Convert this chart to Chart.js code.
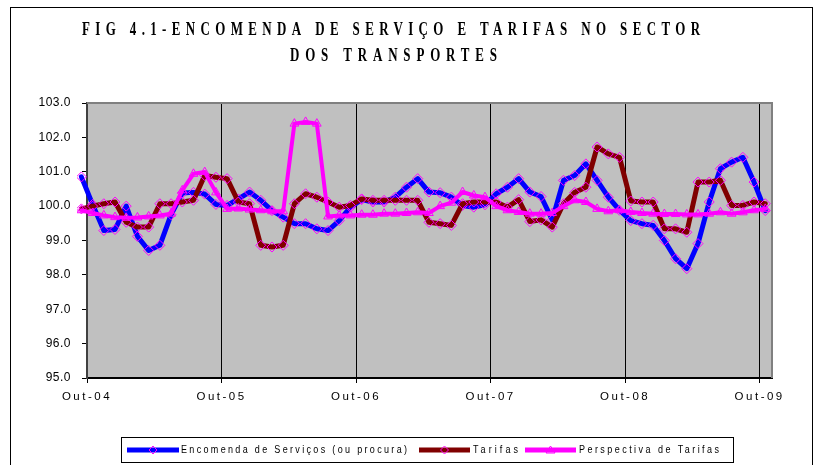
<!DOCTYPE html>
<html>
<head>
<meta charset="utf-8">
<script src="https://cdn.jsdelivr.net/npm/chart.js@4.4.0/dist/chart.umd.min.js"></script>
<style>
  html, body { margin: 0; padding: 0; background: #fff; }
  canvas { display: block; }
</style>
</head>
<body>
<canvas id="myChart" width="822" height="465"></canvas>
<script>
// meses (Set-04 .. Out-09)
const months = [
  'Set-04','Out-04','Nov-04','Dez-04',
  'Jan-05','Fev-05','Mar-05','Abr-05','Mai-05','Jun-05','Jul-05','Ago-05','Set-05','Out-05','Nov-05','Dez-05',
  'Jan-06','Fev-06','Mar-06','Abr-06','Mai-06','Jun-06','Jul-06','Ago-06','Set-06','Out-06','Nov-06','Dez-06',
  'Jan-07','Fev-07','Mar-07','Abr-07','Mai-07','Jun-07','Jul-07','Ago-07','Set-07','Out-07','Nov-07','Dez-07',
  'Jan-08','Fev-08','Mar-08','Abr-08','Mai-08','Jun-08','Jul-08','Ago-08','Set-08','Out-08','Nov-08','Dez-08',
  'Jan-09','Fev-09','Mar-09','Abr-09','Mai-09','Jun-09','Jul-09','Ago-09','Set-09','Out-09'
];
const tickLabels = ['Out-04','Out-05','Out-06','Out-07','Out-08','Out-09'];

const encomenda = [100.85, 100.05, 99.29, 99.32, 100.0, 99.12, 98.71, 98.86, 99.75, 100.38, 100.4, 100.35,
  100.05, 100.02, 100.21, 100.41, 100.17, 99.87, 99.68, 99.49, 99.49, 99.34, 99.29, 99.58,
  99.97, 100.19, 100.12, 100.12, 100.26, 100.55, 100.8, 100.41, 100.39, 100.26, 100.02, 99.97,
  100.04, 100.36, 100.55, 100.8, 100.41, 100.28, 99.6, 100.75, 100.89, 101.23, 100.75, 100.26,
  99.88, 99.58, 99.49, 99.44, 99.0, 98.47, 98.18, 98.91, 100.12, 101.09, 101.28, 101.42, 100.7, 99.87];
const tarifas = [99.92, 100.0, 100.07, 100.12, 99.53, 99.39, 99.39, 100.07, 100.07, 100.12, 100.17, 100.89,
  100.84, 100.8, 100.12, 100.07, 98.86, 98.81, 98.86, 100.07, 100.36, 100.26, 100.12, 99.97,
  100.02, 100.21, 100.17, 100.17, 100.17, 100.17, 100.17, 99.53, 99.49, 99.44, 100.07, 100.12,
  100.12, 100.12, 99.97, 100.19, 99.55, 99.6, 99.39, 100.07, 100.4, 100.55, 101.72, 101.52,
  101.42, 100.15, 100.12, 100.12, 99.34, 99.34, 99.24, 100.7, 100.7, 100.75, 100.02, 100.02, 100.12, 100.07];
const perspectiva = [99.88, 99.8, 99.73, 99.68, 99.66, 99.67, 99.7, 99.73, 99.78, 100.46, 100.94, 100.99,
  100.4, 99.92, 99.93, 99.9, 99.88, 99.85, 99.85, 102.4, 102.45, 102.4, 99.7, 99.73,
  99.73, 99.75, 99.75, 99.78, 99.78, 99.8, 99.82, 99.8, 100.0, 100.1, 100.41, 100.31,
  100.26, 100.0, 99.88, 99.83, 99.78, 99.78, 99.8, 100.0, 100.17, 100.12, 99.92, 99.85,
  99.88, 99.83, 99.8, 99.78, 99.77, 99.77, 99.76, 99.76, 99.78, 99.82, 99.78, 99.82, 99.88, 99.92];

const seriesNames = ['Encomenda de Serviços (ou procura)', 'Tarifas', 'Perspectiva de Tarifas'];
const titleLines = ['FIG 4.1-ENCOMENDA DE SERVIÇO E TARIFAS NO SECTOR', 'DOS TRANSPORTES'];

// each month sits in the middle of its slot; the slot of Out-04 starts at 0
const toPoints = arr => arr.map((v, i) => ({x: i - 0.5, y: v}));
const tickValue = label => months.indexOf(label) - 1;

function fitText(ctx, text, x, y, width, squeeze) {
    ctx.save();
    ctx.letterSpacing = '0px';
    const w = ctx.measureText(text).width * squeeze;
    const sp = (width - w) / (text.length - 1) / squeeze;
    ctx.letterSpacing = sp + 'px';
    ctx.translate(x, y);
    ctx.scale(squeeze, 1);
    ctx.textAlign = 'left';
    ctx.fillText(text, 0, 0);
    ctx.restore();
}

function diamond(ctx, x, y, r) {
    ctx.beginPath();
    ctx.moveTo(x, y - r); ctx.lineTo(x + r, y); ctx.lineTo(x, y + r); ctx.lineTo(x - r, y);
    ctx.closePath();
    ctx.stroke();
}

const background = {
    id: 'background',
    beforeDraw(chart) {
        const {ctx, chartArea: {left, top, width, height}} = chart;
        ctx.save();
        ctx.fillStyle = '#ffffff';
        ctx.fillRect(0, 0, chart.width, chart.height);
        ctx.fillStyle = '#C0C0C0';
        ctx.fillRect(left, top, width, height);
        ctx.restore();
        ctx.letterSpacing = '0.5px';
    },
    afterDatasetsDraw(chart) {
        // x tick labels are drawn after the datasets (ticks.z = 1)
        chart.ctx.letterSpacing = '2.5px';
    },
    afterDraw(chart) {
        const {ctx, chartArea: {left, top, right, bottom}} = chart;
        ctx.save();
        ctx.strokeStyle = '#808080';
        ctx.lineWidth = 2;
        ctx.beginPath();
        ctx.moveTo(left, top);
        ctx.lineTo(right, top);
        ctx.lineTo(right, bottom);
        ctx.stroke();

        ctx.strokeStyle = '#000';
        ctx.lineWidth = 1;
        ctx.strokeRect(10.5, 7.5, 802, 470);

        // title
        ctx.fillStyle = '#000';
        ctx.textBaseline = 'middle';
        ctx.font = 'bold 18px "Liberation Serif"';
        fitText(ctx, titleLines[0], 82, 30, 618, 0.72);
        fitText(ctx, titleLines[1], 290, 56, 207, 0.72);

        // legend
        ctx.fillStyle = '#fff';
        ctx.fillRect(121.5, 437.5, 612, 25);
        ctx.strokeStyle = '#000';
        ctx.lineWidth = 1;
        ctx.strokeRect(121.5, 437.5, 612, 25);
        const items = [
            {x1: 127, x2: 179, color: '#0000FF', mark: 'diamond', tx: 181, tw: 226},
            {x1: 419, x2: 470, color: '#800000', mark: 'diamond', tx: 473, tw: 45},
            {x1: 525, x2: 576, color: '#FF00FF', mark: 'triangle', tx: 579, tw: 140}
        ];
        const ly = 450;
        items.forEach((it, i) => {
            ctx.strokeStyle = it.color;
            ctx.lineWidth = 5;
            ctx.beginPath();
            ctx.moveTo(it.x1, ly);
            ctx.lineTo(it.x2, ly);
            ctx.stroke();
            const mx = (it.x1 + it.x2) / 2;
            ctx.strokeStyle = '#FF00FF';
            ctx.lineWidth = 1;
            if (it.mark === 'diamond') {
                diamond(ctx, mx, ly, 4);
            } else {
                ctx.beginPath();
                ctx.moveTo(mx, ly - 4); ctx.lineTo(mx + 4.5, ly + 3); ctx.lineTo(mx - 4.5, ly + 3);
                ctx.closePath();
                ctx.stroke();
            }
            ctx.fillStyle = '#000';
            ctx.font = '10px "Liberation Sans"';
            fitText(ctx, seriesNames[i], it.tx, ly, it.tw, 0.9);
        });
        ctx.restore();
    }
};

const common = {
    borderWidth: 5,
    borderJoinStyle: 'round',
    borderCapStyle: 'round',
    pointRadius: 5,
    pointBorderWidth: 1,
    pointBorderColor: '#FF00FF',
    pointBackgroundColor: 'rgba(0,0,0,0)',
    tension: 0,
    clip: {left: 10, right: 6, top: 6, bottom: 6}
};

const data = {
    datasets: [
        Object.assign({}, common, {
            label: seriesNames[0],
            data: toPoints(encomenda),
            borderColor: '#0000FF',
            pointStyle: 'rectRot',
            order: 2
        }),
        Object.assign({}, common, {
            label: seriesNames[1],
            data: toPoints(tarifas),
            borderColor: '#800000',
            pointStyle: 'rectRot',
            order: 1
        }),
        Object.assign({}, common, {
            label: seriesNames[2],
            data: toPoints(perspectiva),
            borderColor: '#FF00FF',
            borderWidth: 4,
            pointStyle: 'triangle',
            order: 0
        })
    ]
};

const config = {
    type: 'line',
    data,
    plugins: [background],
    options: {
        responsive: false,
        animation: false,
        layout: {
            padding: {top: 103, right: 50, bottom: 57, left: 0}
        },
        plugins: {
            legend: {display: false},
            tooltip: {enabled: false}
        },
        scales: {
            x: {
                type: 'linear',
                min: 0,
                max: 61.1,
                afterBuildTicks(scale) {
                    scale.ticks = tickLabels.map(l => ({value: tickValue(l)}));
                },
                afterFit(scale) { scale.height = 30; },
                ticks: {
                    z: 1,
                    autoSkip: false,
                    maxRotation: 0,
                    padding: 7,
                    color: '#000',
                    font: {family: 'Liberation Sans', size: 11.5},
                    callback: v => tickLabels.find(l => tickValue(l) === v)
                },
                grid: {color: '#000', lineWidth: 1, tickLength: 5},
                border: {color: '#000', width: 2}
            },
            y: {
                min: 95,
                max: 103,
                afterFit(scale) { scale.width = 87; },
                ticks: {
                    stepSize: 1,
                    padding: 11,
                    color: '#000',
                    font: {family: 'Liberation Sans', size: 12},
                    callback: v => v.toFixed(1)
                },
                grid: {drawOnChartArea: false, color: '#000', tickLength: 5},
                border: {color: '#404040', width: 2}
            }
        }
    }
};

const myChart = new Chart(document.getElementById('myChart'), config);
</script>
</body>
</html>
